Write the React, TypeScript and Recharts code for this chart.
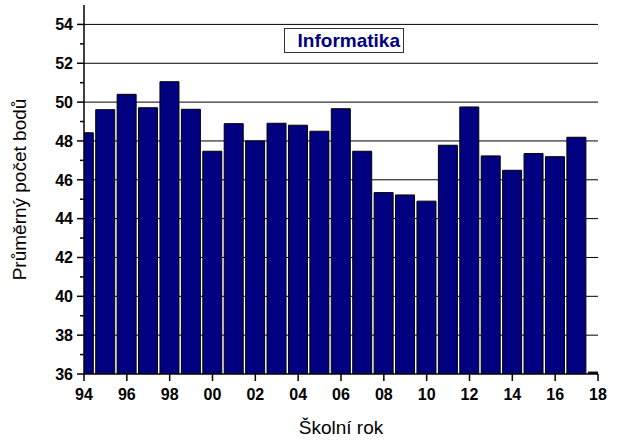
import React from 'react';
import { BarChart, Bar, XAxis, YAxis, CartesianGrid } from 'recharts';

const years = [
    1994, 1995, 1996, 1997, 1998, 1999, 2000, 2001, 2002, 2003, 2004, 2005,
    2006, 2007, 2008, 2009, 2010, 2011, 2012, 2013, 2014, 2015, 2016, 2017, 2018
];
const scores = [
    48.42, 49.61, 50.4, 49.71, 51.05, 49.63, 47.47, 48.89, 48.0, 48.91, 48.81, 48.5,
    49.66, 47.47, 45.34, 45.22, 44.9, 47.78, 49.75, 47.23, 46.49, 47.35, 47.19, 48.19, 36.1
];
const xTicks = [1994, 1996, 1998, 2000, 2002, 2004, 2006, 2008, 2010, 2012, 2014, 2016, 2018];
const yTicks = [36, 37, 38, 39, 40, 41, 42, 43, 44, 45, 46, 47, 48, 49, 50, 51, 52, 53, 54];
const gridValues = [38, 40, 42, 44, 46, 48, 50, 52, 54];

const seriesName = 'Informatika';
const xTitle = 'Školní rok';
const yTitle = 'Průměrný počet bodů';

const data = years.map((year, i) => ({ year, score: scores[i] }));

const FONT = '"Liberation Sans", Arial, sans-serif';
const MAJOR = 7;
const MINOR = 4;

const LeftTick = (props: any) => {
    const { x, y, payload } = props;
    const major = payload.value % 2 === 0;
    return (
        <g>
            <line x1={x} x2={x - (major ? MAJOR : MINOR)} y1={y} y2={y} stroke="#000" strokeWidth={1.5} />
            {major && (
                <text x={x - 11} y={y} dy="0.36em" textAnchor="end" fontFamily={FONT} fontWeight="bold" fontSize={16} fill="#000">
                    {payload.value}
                </text>
            )}
        </g>
    );
};

const RightTick = (props: any) => {
    const { x, y, payload } = props;
    const major = payload.value % 2 === 0;
    return <line x1={x} x2={x - (major ? MAJOR : MINOR)} y1={y} y2={y} stroke="#000" strokeWidth={1.5} />;
};

const BottomTick = (props: any) => {
    const { x, y, payload } = props;
    return (
        <g>
            <line x1={x} x2={x} y1={y} y2={y + MAJOR} stroke="#000" strokeWidth={1.5} />
            <text x={x} y={y + 26} textAnchor="middle" fontFamily={FONT} fontWeight="bold" fontSize={16} fill="#000">
                {String(payload.value % 100).padStart(2, '0')}
            </text>
        </g>
    );
};

const TopTick = (props: any) => {
    const { x, y, payload } = props;
    const major = payload.value % 2 === 0;
    return <line x1={x} x2={x} y1={y} y2={y + (major ? MAJOR : MINOR)} stroke="#000" strokeWidth={1.5} />;
};

const App = () => {
    return (
        <div style={{ position: 'absolute', left: 0, top: 0, width: 617, height: 444, background: '#fff' }}>
            <BarChart
                width={617}
                height={444}
                data={data}
                margin={{ top: 5, right: 19, left: 0, bottom: 0 }}
            >
                <CartesianGrid
                    horizontal={true}
                    vertical={false}
                    horizontalValues={gridValues}
                    stroke="#000"
                    strokeWidth={1}
                />
                <XAxis
                    dataKey="year"
                    type="number"
                    domain={[1994, 2018]}
                    ticks={xTicks}
                    interval={0}
                    allowDataOverflow
                    height={70}
                    tickSize={0}
                    tickMargin={0}
                    tickLine={false}
                    tick={<BottomTick />}
                    axisLine={{ stroke: '#000', strokeWidth: 1.5 }}
                    label={{
                        value: xTitle,
                        position: 'insideBottom',
                        offset: 10,
                        style: { fontFamily: FONT, fontSize: 19, fill: '#000' }
                    }}
                />
                <XAxis
                    xAxisId="top"
                    orientation="top"
                    dataKey="year"
                    type="number"
                    domain={[1994, 2018]}
                    ticks={years}
                    interval={0}
                    allowDataOverflow
                    height={0}
                    tickSize={0}
                    tickMargin={0}
                    tickLine={false}
                    tick={<TopTick />}
                    axisLine={{ stroke: '#000', strokeWidth: 1.5 }}
                />
                <YAxis
                    type="number"
                    domain={[36, 55]}
                    ticks={yTicks}
                    interval={0}
                    allowDataOverflow
                    width={84}
                    tickSize={0}
                    tickMargin={0}
                    tickLine={false}
                    tick={<LeftTick />}
                    axisLine={{ stroke: '#000', strokeWidth: 1.5 }}
                    label={{
                        value: yTitle,
                        angle: -90,
                        position: 'insideLeft',
                        offset: 19,
                        style: { fontFamily: FONT, fontSize: 19, fill: '#000', textAnchor: 'middle' }
                    }}
                />
                <YAxis
                    yAxisId="right"
                    orientation="right"
                    type="number"
                    domain={[36, 55]}
                    ticks={yTicks}
                    interval={0}
                    allowDataOverflow
                    width={0}
                    tickSize={0}
                    tickMargin={0}
                    tickLine={false}
                    tick={<RightTick />}
                    axisLine={{ stroke: '#000', strokeWidth: 1.5 }}
                />
                <Bar
                    dataKey="score"
                    fill="#000080"
                    stroke="#000"
                    strokeWidth={1}
                    barSize={19}
                    isAnimationActive={false}
                />
            </BarChart>
            <div
                style={{
                    position: 'absolute',
                    left: 284,
                    top: 28,
                    width: 118,
                    height: 23,
                    border: '1px solid #333',
                    background: '#fff',
                    boxSizing: 'content-box',
                    fontFamily: FONT,
                    fontWeight: 'bold',
                    fontSize: 19,
                    color: '#000080',
                    lineHeight: '23px',
                    textAlign: 'right'
                }}
            >
                <span style={{ marginRight: 3 }}>{seriesName}</span>
            </div>
        </div>
    );
};

export default App;
